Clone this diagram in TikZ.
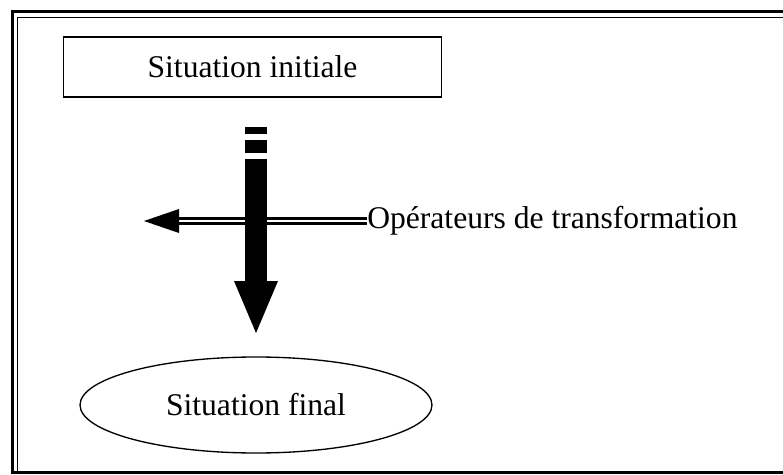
\documentclass[tikz,border=0pt]{standalone}
\usepackage{fontspec}
\setmainfont{Liberation Serif}
\usetikzlibrary{shapes.geometric}
\usetikzlibrary{positioning}

\tikzset{
  lbl/.style={font=\fontsize{23.7}{28}\selectfont, inner sep=0pt},
  frameout/.style={line width=2.2pt},
  framein/.style={line width=1pt},
}

\begin{document}
\begin{tikzpicture}[x=0.75pt,y=-0.75pt]
\clip (0,0) rectangle (783,475);
% cadre double
\draw[frameout] (12.5,473) -- (12.5,11.5) -- (800,11.5);
\draw[framein] (17.5,472) -- (17.5,17.5) -- (800,17.5);
\draw[frameout] (11,472.5) -- (800,472.5);

\node[lbl, draw, line width=0.8pt, minimum width=284pt, minimum height=45pt] (init) at (252.5,67) {Situation initiale};
\node[lbl, draw, line width=1pt, ellipse, minimum width=264pt, minimum height=72pt] (final) at (256,405) {Situation final};
\node[lbl, anchor=west] (ops) at (367,221) {Opérateurs de transformation};

% fleche horizontale
\coordinate (hback) at (179,221);
\coordinate (htip) at (144,221);
\draw[double, line width=2pt, double distance=2.2pt] (ops.west) -- (hback);
\fill (htip) -- (179,209) -- (179,233) -- cycle;

% fleche verticale
\fill (245,127) rectangle (267,134);
\fill (245,140) rectangle (267,153);
\fill (245,159) rectangle (267,282);
\fill (234,281) -- (278,281) -- (256,333) -- cycle;

\end{tikzpicture}
\end{document}
